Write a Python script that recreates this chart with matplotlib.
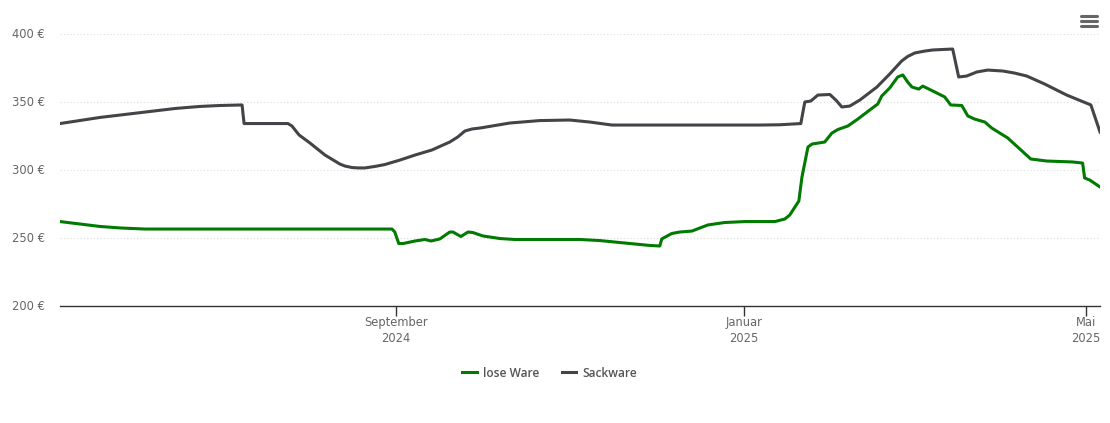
import matplotlib
matplotlib.use("Agg")
import matplotlib.pyplot as plt
from matplotlib.lines import Line2D
from matplotlib.transforms import ScaledTranslation

# days since 2024-05-06
lose_days = [0,7,14,21,29.8,49.1,84.2,116.5,117.5,118.9,120.4,124.6,128.1,130.2,133.3,136.8,137.9,140.7,143.2,144.9,148.4,154.4,159.6,182.5,189.5,198.2,207,210.5,211.2,214.7,217.5,221.8,224.6,227.4,233.3,240.4,250.9,254.4,256.1,259.3,260.4,262.5,263.9,268.4,270.9,273,276.5,280,284.2,287,288.4,291.2,294,295.8,297.5,299,301.4,302.8,306.3,310.5,312.6,316.5,318.6,321,324.6,327,332.6,340.7,346.3,355.4,358.9,359.6,361.4,365]
lose_vals = [262.2,260.4,258.6,257.5,256.7,256.7,256.7,256.7,254.5,246,246,247.9,249,247.9,249.4,254.5,254.5,251.2,254.5,254.1,251.6,249.7,249,249,248.2,246.4,244.6,244.2,249.4,253.4,254.5,255.2,257.5,259.7,261.5,262.2,262.2,264.1,267,277.3,295,317.1,319.3,320.8,327.4,330,332.6,337.7,344.4,348.8,354.7,360.6,368.7,370.2,365,361.3,359.8,362,358.4,354,348.1,347.7,340,337.7,335.5,331.1,323.8,308.3,306.8,306.1,305.3,294.3,292.8,287.7]
sack_days = [0,14,22.8,31.6,40.4,49.1,56.1,63.9,64.6,80,81.4,83.9,87.7,93,98.2,100,102.5,104.6,107,110.5,114,119.3,124.6,130.5,136.8,139.6,142.1,144.6,147.4,157.9,168.4,178.9,186,193.7,224.6,245.6,252.6,260,261.4,263.5,266,270.2,272.3,274.4,277.2,280.7,286.7,291.2,295.4,297.5,300,303.5,306.3,313.3,315.4,318.2,321.8,325.6,330.9,335,339.3,345.6,353.3,361.8,365]
sack_vals = [334.4,338.9,341.1,343.3,345.5,347,347.7,348.1,334.4,334.4,332.6,326,320.1,311.2,304.6,303.1,302,301.7,301.7,302.8,304.2,307.5,311.2,314.9,320.8,324.5,328.9,330.4,331.1,334.8,336.6,337,335.5,333.3,333.3,333.3,333.5,334.4,350.3,351,355.4,355.8,351.7,346.6,347.3,351.7,361.3,370.9,380.5,383.8,386.4,387.8,388.6,389.3,368.7,369.4,372.4,373.8,373.1,371.6,369.4,363.5,355.4,348.1,328.2]
y_ticks = [200,250,300,350,400]
x_tick_days = [118,240,360]
x_tick_labels = ["September\n2024","Januar\n2025","Mai\n2025"]
GREEN = "#007a00"
DARK = "#434348"
W, H = 1110, 423

fig = plt.figure(figsize=(W/100, H/100), dpi=100)
ax = fig.add_axes([60/W, (H-306)/H, 1040/W, 271.5/H])
ax.set_xlim(0, 365)
ax.set_ylim(200, 400)
l1, = ax.plot(lose_days, lose_vals, color=GREEN, lw=2.2, solid_joinstyle="round", label="lose Ware", zorder=3)
l2, = ax.plot(sack_days, sack_vals, color=DARK, lw=2.2, solid_joinstyle="round", label="Sackware", zorder=3)
for s in ["top","right","left"]:
    ax.spines[s].set_visible(False)
ax.spines["bottom"].set_color("#333333")
ax.spines["bottom"].set_linewidth(1)
ax.set_yticks(y_ticks)
ax.set_yticklabels([f"{v} €" for v in y_ticks])
ax.tick_params(axis="y", length=0, pad=11, labelsize=8.3, labelcolor="#666666")
shift = ScaledTranslation(0, 1.5/72*72/100, fig.dpi_scale_trans)
for lab in ax.get_yticklabels():
    lab.set_transform(lab.get_transform() + shift)
ax.set_xticks(x_tick_days)
ax.set_xticklabels(x_tick_labels, linespacing=1.25)
ax.tick_params(axis="x", length=7, width=1, color="#333333", pad=0.5, labelsize=8.3, labelcolor="#666666")
for lab in ax.get_xticklabels():
    lab.set_clip_on(False)
ax.yaxis.grid(True, color="#dddddd", lw=0.8, ls=(0,(1,2)))
ax.set_axisbelow(True)

fig.legend(handles=[l1,l2], loc="center", bbox_to_anchor=(549.5/W, (H-373)/H), ncol=2, frameon=False,
           handlelength=1.2, handletextpad=0.5, columnspacing=1.9,
           prop={"family":"Open Sans","weight":"semibold","size":8.6}, labelcolor="#555555")

for y in [16.5, 21.5, 26.5]:
    fig.add_artist(Line2D([1081/W, 1097/W], [(H-y)/H]*2, color="#666666", lw=2.2, solid_capstyle="round", transform=fig.transFigure))

fig.savefig("out.png", dpi=100)
